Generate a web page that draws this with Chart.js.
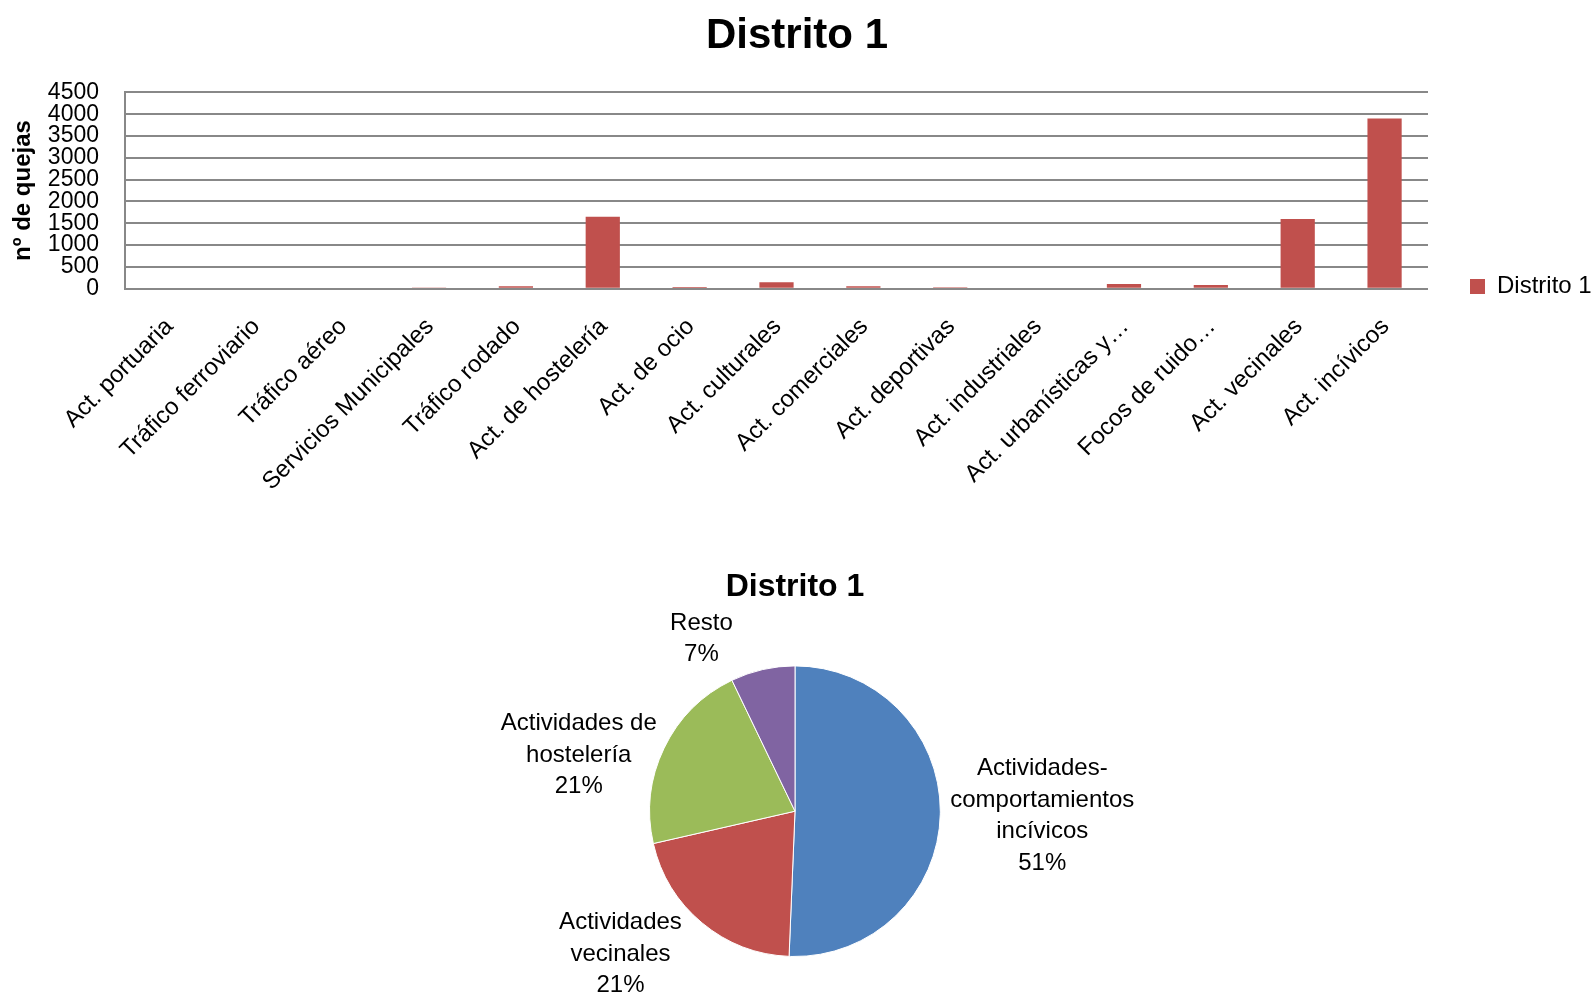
<!DOCTYPE html>
<html lang="es">

<head>
    <meta charset="UTF-8">
    <meta name="viewport" content="width=device-width, initial-scale=1.0">
    <title>Distrito 1 - quejas</title>
    <script src="https://cdn.jsdelivr.net/npm/chart.js"></script>
    <style>
        body { margin: 0; background: #fff; overflow: hidden; }
        .lienzo { position: absolute; left: 0; }
        #graficoBarras { top: 0; }
        #graficoTarta { top: 540px; }
    </style>
</head>

<body>
    <canvas id="graficoBarras" class="lienzo" width="1594" height="573"></canvas>
    <canvas id="graficoTarta" class="lienzo" width="1594" height="457"></canvas>

    <script>
        // Datos del gráfico de barras
        const categorias = ['Act. portuaria', 'Tráfico ferroviario', 'Tráfico aéreo', 'Servicios Municipales',
            'Tráfico rodado', 'Act. de hostelería', 'Act. de ocio', 'Act. culturales', 'Act. comerciales',
            'Act. deportivas', 'Act. industriales', 'Act. urbanísticas y…', 'Focos de ruido…',
            'Act. vecinales', 'Act. incívicos'];
        const quejas = [0, 0, 0, 30, 55, 1650, 40, 145, 55, 35, 0, 105, 85, 1600, 3900];
        const ticksQuejas = [0, 500, 1000, 1500, 2000, 2500, 3000, 3500, 4000, 4500];

        // Tarta: las tres actividades con más quejas y el resto sumado
        const sectores = [['Actividades-', 'comportamientos', 'incívicos'], ['Actividades', 'vecinales'],
            ['Actividades de', 'hostelería'], ['Resto']];
        const indicesSectores = [14, 13, 5];
        const valoresTarta = indicesSectores.map(i => quejas[i]);
        valoresTarta.push(quejas.reduce((s, v, i) => indicesSectores.includes(i) ? s : s + v, 0));

        const rojo = '#C0504D';
        const coloresTarta = ['#4F81BD', '#C0504D', '#9BBB59', '#8064A2'];
        // desplazamiento de cada etiqueta de la tarta (px)
        const ajusteEtiquetas = [[0, 0], [-36, -13], [-6, 32], [-52, 10]];

        const fuente = '"Liberation Sans", Arial, sans-serif';
        Chart.defaults.font.family = fuente;
        Chart.defaults.color = '#000';

        // Etiquetas de la tarta: nombre + porcentaje fuera de cada sector
        const etiquetasTarta = {
            id: 'etiquetasTarta',
            afterDatasetsDraw(chart) {
                const ctx = chart.ctx;
                const arcos = chart.getDatasetMeta(0).data;
                const total = valoresTarta.reduce((a, b) => a + b, 0);
                const interlineado = 31.5;
                ctx.save();
                ctx.font = '24px ' + fuente;
                ctx.fillStyle = '#000';
                ctx.textAlign = 'center';
                ctx.textBaseline = 'middle';
                arcos.forEach((arco, i) => {
                    const { x, y, startAngle, endAngle, outerRadius } =
                        arco.getProps(['x', 'y', 'startAngle', 'endAngle', 'outerRadius'], true);
                    const medio = (startAngle + endAngle) / 2;
                    const dx = Math.cos(medio);
                    const dy = Math.sin(medio);
                    const lineas = sectores[i].concat([Math.round(valoresTarta[i] / total * 100) + '%']);
                    const ancho = Math.max(...lineas.map(l => ctx.measureText(l).width));
                    const alto = lineas.length * interlineado;
                    const cx = x + dx * (outerRadius + 10) + dx * ancho / 2 + ajusteEtiquetas[i][0];
                    const cy = y + dy * (outerRadius + 10) + dy * alto / 2 + ajusteEtiquetas[i][1];
                    lineas.forEach((l, j) => {
                        ctx.fillText(l, cx, cy + (j - (lineas.length - 1) / 2) * interlineado);
                    });
                });
                ctx.restore();
            }
        };

        new Chart(document.getElementById('graficoBarras'), {
            type: 'bar',
            data: {
                labels: categorias,
                datasets: [{
                    label: 'Distrito 1',
                    data: quejas,
                    backgroundColor: rojo,
                    barPercentage: 0.394,
                    categoryPercentage: 1
                }]
            },
            options: {
                responsive: false,
                animation: false,
                devicePixelRatio: 1,
                layout: { padding: 0 },
                plugins: {
                    title: {
                        display: true,
                        text: 'Distrito 1',
                        font: { size: 42, weight: 'bold' },
                        padding: { top: 11, bottom: 31 }
                    },
                    legend: {
                        position: 'right',
                        align: 'center',
                        maxWidth: 166,
                        labels: { boxWidth: 15, boxHeight: 15, padding: 42, font: { size: 24 } }
                    },
                    tooltip: { enabled: false }
                },
                scales: {
                    x: {
                        grid: { display: false },
                        border: { display: false },
                        ticks: {
                            autoSkip: false,
                            minRotation: 45,
                            maxRotation: 45,
                            padding: 16,
                            labelOffset: 1,
                            font: { size: 24 }
                        },
                        afterFit(s) { s.height = 284.3; }
                    },
                    y: {
                        min: 0,
                        max: 4500,
                        afterBuildTicks(s) { s.ticks = ticksQuejas.map(v => ({ value: v })); },
                        grid: { color: '#888', lineWidth: 2, drawTicks: false },
                        border: { display: true, color: '#888', width: 2 },
                        ticks: {
                            autoSkip: false,
                            padding: 26,
                            font: { size: 23 },
                            callback: v => String(v)
                        },
                        title: {
                            display: true,
                            text: 'nº de quejas',
                            font: { size: 24, weight: 'bold' },
                            padding: { top: 9, bottom: 0 }
                        },
                        afterFit(s) { s.width = 125; }
                    }
                }
            }
        });

        new Chart(document.getElementById('graficoTarta'), {
            type: 'pie',
            data: {
                labels: sectores.map(s => s.join(' ')),
                datasets: [{
                    data: valoresTarta,
                    backgroundColor: coloresTarta,
                    borderColor: '#fff',
                    borderWidth: 1
                }]
            },
            options: {
                responsive: false,
                animation: false,
                devicePixelRatio: 1,
                layout: { padding: { left: 649, right: 653, top: 0, bottom: 40 } },
                plugins: {
                    title: {
                        display: true,
                        text: 'Distrito 1',
                        font: { size: 32, weight: 'bold' },
                        padding: { top: 28, bottom: 59 }
                    },
                    legend: { display: false },
                    tooltip: { enabled: false }
                }
            },
            plugins: [etiquetasTarta]
        });
    </script>
</body>

</html>
